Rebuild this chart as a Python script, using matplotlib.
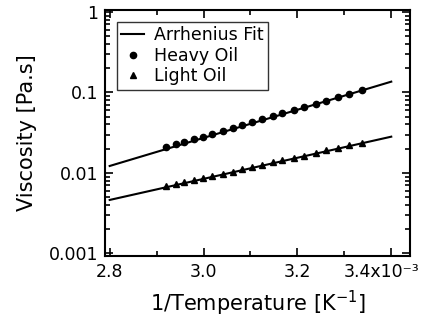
"""
viscosity of heavy and light oil against inverse temperature,
with arrhenius fits drawn as straight lines on a log axis.
"""

import numpy as np
import matplotlib.pyplot as plt
from matplotlib.ticker import FixedLocator, FuncFormatter, LogLocator, NullFormatter
from matplotlib.transforms import ScaledTranslation

# inverse temperature of each measurement, in units of 1e-3 1/K
inv_temp = [2.920, 2.942, 2.959, 2.980, 2.998, 3.019, 3.041, 3.062, 3.083, 3.104,
            3.125, 3.147, 3.168, 3.193, 3.214, 3.239, 3.261, 3.287, 3.311, 3.338]

# measured viscosities in pa.s
heavy_oil = [0.0208, 0.0226, 0.0242, 0.0263, 0.0282, 0.0306, 0.0333, 0.0362, 0.0393, 0.0427,
             0.0464, 0.0506, 0.0549, 0.0606, 0.0658, 0.0725, 0.0791, 0.0875, 0.0962, 0.1070]
light_oil = [0.00680, 0.00725, 0.00762, 0.00812, 0.00856, 0.00912, 0.00975, 0.0104, 0.0111, 0.0118,
             0.0126, 0.0135, 0.0143, 0.0154, 0.0164, 0.0177, 0.0190, 0.0205, 0.0220, 0.0238]

# end points of the arrhenius fits
fit_x = [2.8, 3.4]
heavy_fit = [0.0122, 0.136]
light_fit = [0.00462, 0.0282]

x_ticks = [2.8, 3.0, 3.2, 3.4]
x_tick_labels = ['2.8', '3.0', '3.2', '3.4x10\u207b\u00b3']
y_ticks = [0.001, 0.01, 0.1, 1]
y_tick_labels = ['0.001', '0.01', '0.1', '1']


def main():
    plt.rcParams['font.family'] = ['DejaVu Sans']
    plt.rcParams['mathtext.default'] = 'regular'

    fig = plt.figure(figsize=(4.28, 3.28), dpi=100)
    ax = fig.add_axes([0.2453, 0.2195, 0.7127, 0.7515])

    ax.plot(fit_x, heavy_fit, color='black', linewidth=1.5, label='Arrhenius Fit')
    ax.plot(fit_x, light_fit, color='black', linewidth=1.5)
    ax.plot(inv_temp, heavy_oil, 'o', color='black', markersize=4.5, label='Heavy Oil')
    ax.plot(inv_temp, light_oil, '^', color='black', markersize=4.5, label='Light Oil')

    ax.set_yscale('log')
    ax.set_xlim(2.79, 3.44)
    ax.set_ylim(0.00093, 1.07)

    # x axis: labelled every 0.2, minor ticks every 0.1
    ax.xaxis.set_major_locator(FixedLocator(x_ticks))
    ax.xaxis.set_major_formatter(FuncFormatter(lambda v, pos: x_tick_labels[pos] if pos is not None and pos < len(x_tick_labels) else ''))
    ax.xaxis.set_minor_locator(FixedLocator([2.9, 3.1, 3.3]))

    ax.yaxis.set_major_locator(FixedLocator(y_ticks))
    ax.yaxis.set_major_formatter(FuncFormatter(lambda v, pos: y_tick_labels[pos] if pos is not None and pos < len(y_tick_labels) else ''))
    ax.yaxis.set_minor_locator(LogLocator(base=10, subs=np.arange(2, 10)))
    ax.yaxis.set_minor_formatter(NullFormatter())

    ax.tick_params(which='both', direction='in', top=True, right=True, width=1.2,
                   labelsize=12.5, colors='black')
    ax.tick_params(which='major', length=6, pad=5)
    ax.tick_params(which='minor', length=3.5)
    for spine in ax.spines.values():
        spine.set_linewidth(1.5)

    ax.set_xlabel('1/Temperature [K$^{\\mathregular{-1}}$]', fontsize=15, labelpad=6)
    ax.set_ylabel('Viscosity [Pa.s]', fontsize=15, labelpad=8)

    leg = ax.legend(loc='upper left', fontsize=12.5, frameon=True, fancybox=False,
                    edgecolor='black', handlelength=1.3, handletextpad=0.6,
                    borderpad=0.25, labelspacing=0.15, borderaxespad=0.7)
    leg.get_frame().set_linewidth(1.0)

    # the last x label carries the exponent, nudge it left so it stays on the canvas
    fig.canvas.draw()
    last = ax.get_xticklabels()[-1]
    last.set_transform(last.get_transform() + ScaledTranslation(-7 / 72, 0, fig.dpi_scale_trans))

    fig.savefig('out.png', dpi=100)


if __name__ == "__main__":
    main()
